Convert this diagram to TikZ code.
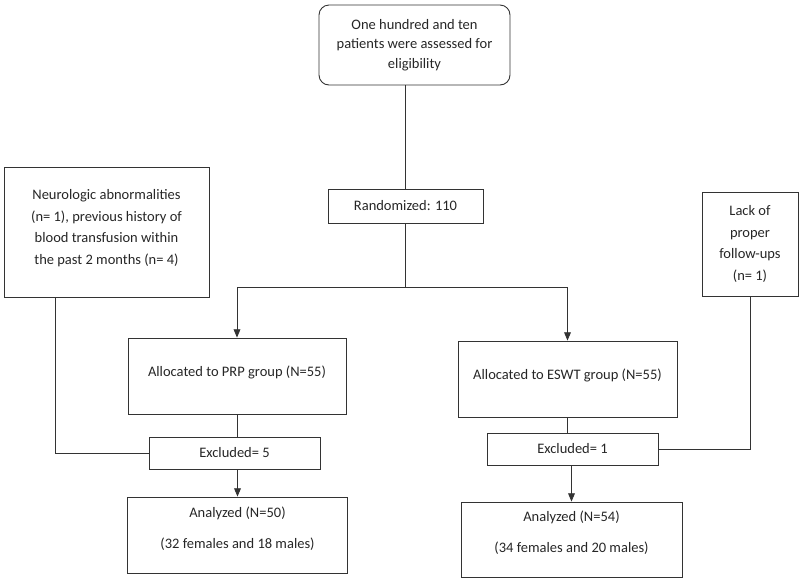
\documentclass[tikz,border=0pt]{standalone}
\usepackage{fontspec}
\setmainfont{Carlito}
\usetikzlibrary{arrows,positioning,calc}

\begin{document}
\begin{tikzpicture}[x=1pt,y=-1pt,
        box/.style={rectangle, draw=black!80, line width=0.9pt, align=center, inner sep=2pt,
            text=black!85, font=\fontsize{14.5}{21.7}\selectfont},
        line/.style={draw=black!80, line width=0.9pt},
        arrow/.style={line, -triangle 45}]
        \useasboundingbox (0,0) rectangle (800,582);
        \node[box, rounded corners=10pt, minimum width=191pt, minimum height=80pt,
            font=\fontsize{14.5}{19.5}\selectfont](assess) at (414.5,45)
            {One hundred and ten\\patients were assessed for\\eligibility};
        \node[box, minimum width=155pt, minimum height=34pt](rand) at (405.5,206) {Randomized: 110};
        \node[box, minimum width=205pt, minimum height=130pt, text depth=10pt](reasonL) at (106.5,232)
            {Neurologic abnormalities\\(n= 1), previous history of\\blood transfusion within\\the past 2 months (n= 4)};
        \node[box, minimum width=96pt, minimum height=104pt](reasonR) at (750,244)
            {Lack of\\proper\\follow-ups\\(n= 1)};
        \node[box, minimum width=218pt, minimum height=76pt, text depth=10pt](prp) at (237,376) {Allocated to PRP group (N=55)};
        \node[box, minimum width=219pt, minimum height=76pt, text depth=10pt](eswt) at (567.5,379) {Allocated to ESWT group (N=55)};
        \node[box, minimum width=171pt, minimum height=32pt](exclL) at (234.5,453) {Excluded= 5};
        \node[box, minimum width=171pt, minimum height=32pt](exclR) at (572.5,449) {Excluded= 1};
        \node[box, minimum width=220pt, minimum height=76pt, text depth=15pt](anaL) at (237.5,535)
            {Analyzed (N=50)\\[9pt](32 females and 18 males)};
        \node[box, minimum width=221pt, minimum height=75pt, text depth=15pt](anaR) at (571.5,539.5)
            {Analyzed (N=54)\\[9pt](34 females and 20 males)};
        % connectors
        \coordinate (split) at ($(rand.south)+(0,64)$);
        \draw[line] (rand.north) -- (rand.north |- assess.south);
        \draw[line] (rand.south) -- (split);
        \draw[arrow] (split) -| (prp);
        \draw[arrow] (split) -| (eswt);
        \draw[line] (prp.south) -- (prp.south |- exclL.north);
        \draw[arrow] (anaL.north |- exclL.south) -- (anaL.north);
        \draw[line] (eswt.south) -- (eswt.south |- exclR.north);
        \draw[arrow] (anaR.north |- exclR.south) -- (anaR.north);
        \draw[line] ($(reasonL.south west)!0.25!(reasonL.south east)$) |- (exclL.west);
        \draw[line] (reasonR.south) |- (exclR.east);
    \end{tikzpicture}
\end{document}
